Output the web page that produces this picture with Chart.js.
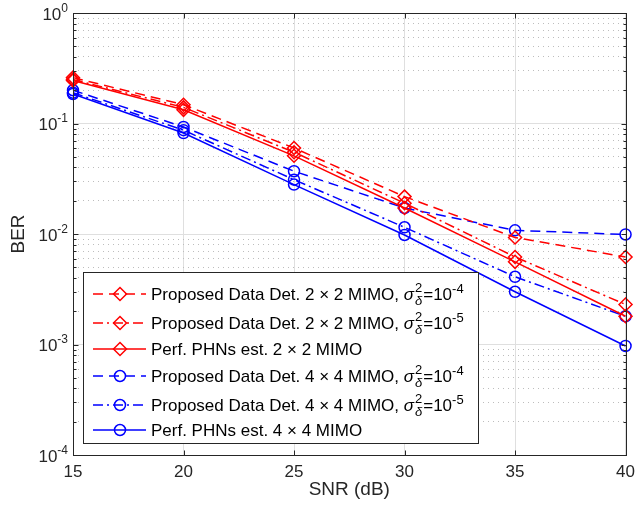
<!DOCTYPE html>
<html>
<head>
<meta charset="utf-8">
<script src="https://cdn.jsdelivr.net/npm/chart.js@4.4.1/dist/chart.umd.min.js"></script>
<style>
  html, body { margin: 0; padding: 0; background: #fff; }
  #wrap { width: 642px; height: 506px; }
</style>
</head>
<body>
<div id="wrap"><canvas id="berChart" width="642" height="506"></canvas></div>
<script>
// SNR axis (dB)
const snr = [15, 20, 25, 30, 35, 40];

// BER curves
const det2x2_1e4 = [0.26, 0.148, 0.060, 0.0218, 0.0093, 0.0062];
const det2x2_1e5 = [0.25, 0.140, 0.055, 0.0190, 0.0062, 0.0023];
const perf2x2 = [0.245, 0.133, 0.051, 0.0172, 0.0056, 0.0018];
const det4x4_1e4 = [0.200, 0.093, 0.037, 0.0172, 0.0108, 0.0099];
const det4x4_1e5 = [0.190, 0.087, 0.031, 0.0115, 0.0041, 0.0018];
const perf4x4 = [0.185, 0.082, 0.028, 0.0098, 0.0030, 0.00097];

// tick labels
const xTicks = [15, 20, 25, 30, 35, 40];
const yDecades = [0, -1, -2, -3, -4];

// legend text
const seriesNames = [
  "Proposed Data Det. 2 \u00d7 2 MIMO, ",
  "Proposed Data Det. 2 \u00d7 2 MIMO, ",
  "Perf. PHNs est. 2 \u00d7 2 MIMO",
  "Proposed Data Det. 4 \u00d7 4 MIMO, ",
  "Proposed Data Det. 4 \u00d7 4 MIMO, ",
  "Perf. PHNs est. 4 \u00d7 4 MIMO",
];
const sigmaExp = ["-4", "-5", null, "-4", "-5", null];

const FONT = "'Liberation Sans', Arial, sans-serif";
const AXIS_COLOR = "#262626";
const DASH = [10, 6];
const DASHDOT = [10, 4, 2, 4];

const seriesData = [det2x2_1e4, det2x2_1e5, perf2x2, det4x4_1e4, det4x4_1e5, perf4x4];
const seriesColor = ["#ff0000", "#ff0000", "#ff0000", "#0000ff", "#0000ff", "#0000ff"];
const seriesDash = [DASH, DASHDOT, [], DASH, DASHDOT, []];
const seriesMarker = ["rectRot", "rectRot", "rectRot", "circle", "circle", "circle"];

function isDecade(v) {
  const l = Math.log10(v);
  return Math.abs(l - Math.round(l)) < 1e-9;
}

// all 1..9 x 10^n ticks for the log axis
const yTickValues = [];
for (let e = -4; e <= 0; e++) {
  for (let m = 1; m <= 9; m++) {
    if (e === 0 && m > 1) break;
    yTickValues.push(m * Math.pow(10, e));
  }
}

function drawMarker(ctx, style, x, y, color) {
  ctx.save();
  ctx.strokeStyle = color;
  ctx.lineWidth = 1.5;
  ctx.setLineDash([]);
  ctx.beginPath();
  if (style === "rectRot") {
    ctx.moveTo(x, y - 6.5);
    ctx.lineTo(x + 6.5, y);
    ctx.lineTo(x, y + 6.5);
    ctx.lineTo(x - 6.5, y);
    ctx.closePath();
  } else {
    ctx.arc(x, y, 5.5, 0, Math.PI * 2);
  }
  ctx.stroke();
  ctx.restore();
}

function drawLabel(ctx, x, base, name, exp) {
  ctx.fillStyle = "#000";
  ctx.textAlign = "left";
  ctx.textBaseline = "alphabetic";
  ctx.font = "17px " + FONT;
  ctx.fillText(name, x, base);
  if (!exp) return;
  x += ctx.measureText(name).width;
  ctx.font = "italic 17px " + FONT;
  ctx.fillText("\u03c3", x, base);
  x += ctx.measureText("\u03c3").width + 1;
  ctx.font = "13px " + FONT;
  ctx.fillText("2", x, base - 8);
  const w2 = ctx.measureText("2").width;
  ctx.font = "italic 13px " + FONT;
  ctx.fillText("\u03b4", x, base + 5);
  const wd = ctx.measureText("\u03b4").width;
  x += Math.max(w2, wd) + 1;
  ctx.font = "17px " + FONT;
  ctx.fillText("=10", x, base);
  x += ctx.measureText("=10").width;
  ctx.font = "13px " + FONT;
  ctx.fillText(exp, x, base - 7);
}

// box, inward ticks, y labels and the legend
const matlabFrame = {
  id: "matlabFrame",
  afterDraw(chart) {
    const { ctx, chartArea: a, scales: { x, y } } = chart;
    ctx.save();
    ctx.strokeStyle = AXIS_COLOR;
    ctx.lineWidth = 1;
    ctx.setLineDash([]);
    const L = Math.round(a.left) + 0.5, R = Math.round(a.right) + 0.5;
    const T = Math.round(a.top) + 0.5, B = Math.round(a.bottom) + 0.5;
    ctx.strokeRect(L, T, R - L, B - T);

    ctx.beginPath();
    xTicks.forEach(v => {
      const px = Math.round(x.getPixelForValue(v)) + 0.5;
      ctx.moveTo(px, B); ctx.lineTo(px, B - 5);
      ctx.moveTo(px, T); ctx.lineTo(px, T + 5);
    });
    yTickValues.forEach(v => {
      const py = Math.round(y.getPixelForValue(v)) + 0.5;
      const len = isDecade(v) ? 5 : 3;
      ctx.moveTo(L, py); ctx.lineTo(L + len, py);
      ctx.moveTo(R, py); ctx.lineTo(R - len, py);
    });
    ctx.stroke();

    // y tick labels with superscript exponents
    ctx.fillStyle = AXIS_COLOR;
    ctx.textBaseline = "alphabetic";
    yDecades.forEach(e => {
      const py = y.getPixelForValue(Math.pow(10, e));
      const expText = String(e);
      ctx.font = "12px " + FONT;
      const ew = ctx.measureText(expText).width;
      const right = a.left - 5;
      ctx.textAlign = "left";
      ctx.fillText(expText, right - ew, py - 1.5);
      ctx.font = "17px " + FONT;
      ctx.textAlign = "right";
      ctx.fillText("10", right - ew, py + 6.5);
    });

    // legend
    const bx = 83.5, by = 272.5, bw = 395, bh = 171;
    ctx.fillStyle = "#fff";
    ctx.fillRect(bx, by, bw, bh);
    ctx.strokeStyle = AXIS_COLOR;
    ctx.strokeRect(bx, by, bw, bh);
    const rows = [294, 323, 349, 376, 405, 430];
    rows.forEach((ry, i) => {
      ctx.save();
      ctx.strokeStyle = seriesColor[i];
      ctx.lineWidth = 1.5;
      ctx.setLineDash(seriesDash[i]);
      ctx.beginPath();
      ctx.moveTo(93, ry);
      ctx.lineTo(146, ry);
      ctx.stroke();
      ctx.restore();
      drawMarker(ctx, seriesMarker[i], 120, ry, seriesColor[i]);
      drawLabel(ctx, 151, ry + 6, seriesNames[i], sigmaExp[i]);
    });
    ctx.restore();
  },
};

const datasets = seriesData.map((d, i) => ({
  data: d.map((v, k) => ({ x: snr[k], y: v })),
  borderColor: seriesColor[i],
  borderWidth: 1.5,
  borderDash: seriesDash[i],
  pointStyle: seriesMarker[i],
  pointRadius: seriesMarker[i] === "circle" ? 5.5 : 6.5,
  pointBorderWidth: 1.5,
  pointBorderColor: seriesColor[i],
  pointBackgroundColor: "rgba(0,0,0,0)",
  tension: 0,
  clip: false,
}));

const ctxBer = document.getElementById("berChart").getContext("2d");
new Chart(ctxBer, {
  type: "line",
  data: { datasets },
  options: {
    responsive: false,
    animation: false,
    layout: { padding: { top: 13, right: 12, bottom: 0, left: 0 } },
    plugins: { legend: { display: false }, tooltip: { enabled: false } },
    scales: {
      x: {
        type: "linear",
        min: 15,
        max: 40,
        afterBuildTicks: s => { s.ticks = xTicks.map(v => ({ value: v })); },
        afterFit: s => { s.height = 51; },
        grid: { color: "#dfdfdf", drawTicks: false },
        border: { display: false },
        ticks: {
          padding: 7,
          color: AXIS_COLOR,
          maxRotation: 0,
          autoSkip: false,
          font: { family: FONT, size: 17 },
        },
        title: {
          display: true,
          text: "SNR (dB)",
          color: AXIS_COLOR,
          font: { family: FONT, size: 19 },
          padding: { top: 0, bottom: 5 },
        },
      },
      y: {
        type: "logarithmic",
        min: 1e-4,
        max: 1,
        afterBuildTicks: s => { s.ticks = yTickValues.map(v => ({ value: v })); },
        afterFit: s => { s.width = 73; },
        grid: {
          drawTicks: false,
          color: c => (isDecade(c.tick.value) ? "#dfdfdf" : "#bdbdbd"),
        },
        border: {
          display: false,
          dash: c => (c.tick && !isDecade(c.tick.value) ? [1, 4] : []),
        },
        ticks: { display: false },
        title: {
          display: true,
          text: "BER",
          color: AXIS_COLOR,
          font: { family: FONT, size: 19 },
          padding: { top: 7, bottom: 0 },
        },
      },
    },
  },
  plugins: [matlabFrame],
});
</script>
</body>
</html>
